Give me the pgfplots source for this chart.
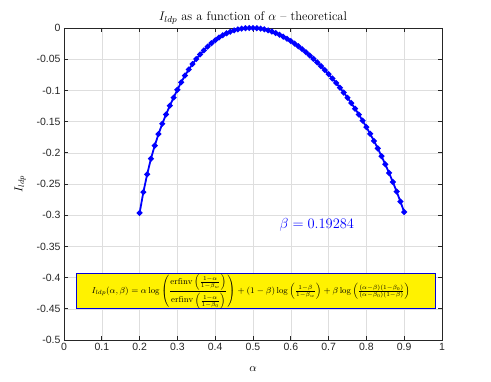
\RequirePackage{fix-cm}
\documentclass[border=0pt]{standalone}
\usepackage{fontspec}
\usepackage{amsmath}
\newfontfamily\tickfont{Liberation Sans}
\usepackage{pgfplots}
\pgfplotsset{compat=1.18}

\pgfplotstableread{
alpha  I
0.20 -0.2964
0.21 -0.2630
0.22 -0.2345
0.23 -0.2095
0.24 -0.1885
0.25 -0.1700
0.26 -0.1535
0.27 -0.1385
0.28 -0.1245
0.29 -0.1115
0.30 -0.0990
0.31 -0.0870
0.32 -0.0762
0.33 -0.0665
0.34 -0.0577
0.35 -0.0497
0.36 -0.0424
0.37 -0.0358
0.38 -0.0298
0.39 -0.0244
0.40 -0.0196
0.41 -0.0153
0.42 -0.0116
0.43 -0.0085
0.44 -0.0059
0.45 -0.0038
0.46 -0.0022
0.47 -0.0010
0.48 -0.0003
0.49 0.0000
0.50 0.0000
0.51 -0.0003
0.52 -0.0010
0.53 -0.0021
0.54 -0.0037
0.55 -0.0057
0.56 -0.0081
0.57 -0.0108
0.58 -0.0139
0.59 -0.0173
0.60 -0.0210
0.61 -0.0250
0.62 -0.0293
0.63 -0.0339
0.64 -0.0388
0.65 -0.0440
0.66 -0.0494
0.67 -0.0551
0.68 -0.0611
0.69 -0.0674
0.70 -0.0740
0.71 -0.0809
0.72 -0.0881
0.73 -0.0956
0.74 -0.1035
0.75 -0.1117
0.76 -0.1203
0.77 -0.1293
0.78 -0.1387
0.79 -0.1485
0.80 -0.1588
0.81 -0.1696
0.82 -0.1810
0.83 -0.1929
0.84 -0.2054
0.85 -0.2185
0.86 -0.2323
0.87 -0.2468
0.88 -0.2621
0.89 -0.2781
0.90 -0.2950
}\ldpdata

\definecolor{axgray}{RGB}{38,38,38}

\begin{document}
\begin{tikzpicture}
% fixed page size: 491 x 382
\path[use as bounding box] (-64pt,-42pt) rectangle (427pt,340pt);
\begin{axis}[
  at={(0,0)}, anchor=south west,
  scale only axis, width=378pt, height=312pt,
  xmin=0, xmax=1, ymin=-0.5, ymax=0,
  xtick={0,0.1,0.2,0.3,0.4,0.5,0.6,0.7,0.8,0.9,1},
  xticklabels={0,0.1,0.2,0.3,0.4,0.5,0.6,0.7,0.8,0.9,1},
  ytick={-0.5,-0.45,-0.4,-0.35,-0.3,-0.25,-0.2,-0.15,-0.1,-0.05,0},
  yticklabels={-0.5,-0.45,-0.4,-0.35,-0.3,-0.25,-0.2,-0.15,-0.1,-0.05,0},
  ticklabel style={font=\tickfont\fontsize{10.5}{12}\selectfont, text=axgray},
  grid=major,
  major grid style={black!13, line width=0.5pt},
  axis line style={axgray, line width=0.6pt},
  tick style={axgray, line width=0.6pt},
  tick align=inside, major tick length=4pt,
  xlabel={$\alpha$}, ylabel={$I_{ldp}$},
  label style={font=\fontsize{11.5}{13}\selectfont},
  xlabel style={at={(axis description cs:0.5,-0.094)}, anchor=center},
  ylabel style={at={(axis description cs:-0.116,0.5)}, anchor=center},
  clip=false,
]
\addplot[blue, line width=1.8pt, mark=*, mark size=1.9pt, mark options={fill=blue}] table[x=alpha, y=I] {\ldpdata};

% title
\node[font=\fontsize{12.5}{14}\selectfont] at (axis description cs:0.5,1.032) {$I_{ldp}$ as a function of $\alpha$ -- theoretical};

\node[text=blue, font=\fontsize{14.5}{17}\selectfont] at (axis cs:0.669,-0.316) {$\beta = 0.19284$};

\draw[blue!85!black, fill=yellow, line width=0.8pt] (axis cs:0.034,-0.394) rectangle (axis cs:0.983,-0.450);
\node[font=\fontsize{8.6}{10}\selectfont, inner sep=0pt] at (axis cs:0.494,-0.422)
 {$I_{ldp}(\alpha,\beta) = \alpha\log\left(\dfrac{\mathrm{erfinv}\left(\frac{1-\alpha}{1-\beta_w}\right)}{\mathrm{erfinv}\left(\frac{1-\alpha}{1-\beta_0}\right)}\right) + (1-\beta)\log\left(\frac{1-\beta}{1-\beta_w}\right) + \beta\log\left(\frac{(\alpha-\beta)(1-\beta_0)}{(\alpha-\beta_0)(1-\beta)}\right)$};
\end{axis}
\end{tikzpicture}
\end{document}
